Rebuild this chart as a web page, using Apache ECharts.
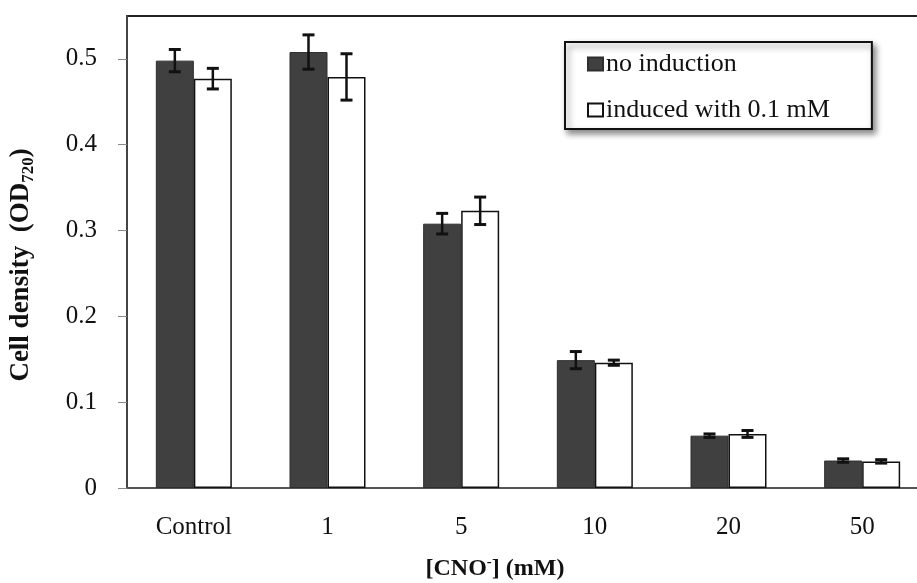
<!DOCTYPE html>
<html><head><meta charset="utf-8">
<script src="https://cdn.jsdelivr.net/npm/echarts@6/dist/echarts.min.js"></script>
<style>html,body{margin:0;padding:0;background:#fff}#c{width:917px;height:583px}</style>
</head><body><div id="c"></div>
<script>
const categories = ['Control', '1', '5', '10', '20', '50'];
const noInduction = [0.498, 0.508, 0.308, 0.149, 0.061, 0.032];
const noInductionErr = [0.013, 0.020, 0.012, 0.010, 0.002, 0.002];
const induced = [0.477, 0.479, 0.323, 0.146, 0.063, 0.031];
const inducedErr = [0.012, 0.027, 0.016, 0.003, 0.004, 0.002];
const yTicks = [0, 0.1, 0.2, 0.3, 0.4, 0.5];
const seriesNames = ['no induction', 'induced with 0.1 mM'];

const FONT = '"Liberation Serif", "Times New Roman", serif';
const BAR_W = 38;

function errData(vals, errs) {
  return vals.map((v, i) => [i, v - errs[i], v + errs[i]]);
}
function errSeries(vals, errs, offset) {
  return {
    type: 'custom',
    silent: true,
    z: 10,
    encode: { x: 0, y: [1, 2] },
    data: errData(vals, errs),
    renderItem: function (params, api) {
      const lo = api.coord([api.value(0), api.value(1)]);
      const hi = api.coord([api.value(0), api.value(2)]);
      const x = lo[0] + offset;
      const cap = 6;
      const st = { stroke: '#111', lineWidth: 2.5 };
      const cs = { stroke: '#111', lineWidth: 3 };
      return {
        type: 'group',
        children: [
          { type: 'line', shape: { x1: x, y1: lo[1], x2: x, y2: hi[1] }, style: st },
          { type: 'line', shape: { x1: x - cap, y1: lo[1], x2: x + cap, y2: lo[1] }, style: cs },
          { type: 'line', shape: { x1: x - cap, y1: hi[1], x2: x + cap, y2: hi[1] }, style: cs }
        ]
      };
    }
  };
}

const chart = echarts.init(document.getElementById('c'), null, { renderer: 'canvas' });
chart.setOption({
  backgroundColor: '#fff',
  animation: false,
  textStyle: { fontFamily: FONT },
  grid: {
    left: 127, top: 16, right: -12, bottom: 95,
    outerBoundsMode: 'none',
    containLabel: false,
    show: true, borderColor: '#222', borderWidth: 2, backgroundColor: '#fff'
  },
  legend: {
    orient: 'vertical',
    left: 565, top: 42,
    data: seriesNames.map(n => ({ name: n, icon: 'rect' })),
    itemWidth: 15, itemHeight: 13,
    itemGap: 20,
    padding: [9, 42, 6, 22],
    backgroundColor: '#fff',
    borderColor: '#111', borderWidth: 2,
    shadowColor: 'rgba(0,0,0,0.45)', shadowBlur: 6, shadowOffsetX: 3, shadowOffsetY: 4,
    textStyle: { fontFamily: FONT, fontSize: 26, color: '#111', lineHeight: 26, padding: [0, 0, 0, -2] },
    selectedMode: false
  },
  xAxis: {
    type: 'category',
    data: categories,
    axisLine: { lineStyle: { color: '#555', width: 2 } },
    axisTick: { length: 8, lineStyle: { color: '#888', width: 1 } },
    axisLabel: { fontFamily: FONT, fontSize: 25, color: '#111', margin: 27 },
    name: '{a|[CNO}{s|-}{a|] (mM)}',
    nameLocation: 'middle',
    nameGap: 67,
    nameTextStyle: {
      padding: [0, 66, 0, 0],
      rich: {
        a: { fontFamily: FONT, fontSize: 24, fontWeight: 'bold', color: '#111' },
        s: { fontFamily: FONT, fontSize: 15, fontWeight: 'bold', color: '#111', padding: [0, 0, 12, 0] }
      }
    }
  },
  yAxis: {
    type: 'value',
    min: 0, max: 0.55, interval: 0.1,
    splitLine: { show: false },
    axisLine: { show: true, lineStyle: { color: '#444', width: 2 } },
    axisTick: { show: true, length: 9, customValues: yTicks, lineStyle: { color: '#888', width: 1 } },
    axisLabel: { customValues: yTicks, fontFamily: FONT, fontSize: 25, color: '#111', margin: 30 },
    name: '{a|Cell density  (OD}{s|720}{a|)}',
    nameLocation: 'middle',
    nameGap: 90,
    nameTextStyle: {
      padding: [0, 26, 0, 0],
      rich: {
        a: { fontFamily: FONT, fontSize: 27, fontWeight: 'bold', color: '#111' },
        s: { fontFamily: FONT, fontSize: 17, fontWeight: 'bold', color: '#111', padding: [14, 0, 0, 0] }
      }
    }
  },
  series: [
    {
      name: seriesNames[0], type: 'bar', data: noInduction,
      barWidth: BAR_W, barGap: '0%',
      itemStyle: { color: '#404040', borderColor: '#2e2e2e', borderWidth: 1 }
    },
    {
      name: seriesNames[1], type: 'bar', data: induced,
      barWidth: BAR_W, barGap: '0%',
      itemStyle: { color: '#fff', borderColor: '#111', borderWidth: 1.5 }
    },
    errSeries(noInduction, noInductionErr, -BAR_W / 2),
    errSeries(induced, inducedErr, BAR_W / 2)
  ]
});
</script>
</body></html>
